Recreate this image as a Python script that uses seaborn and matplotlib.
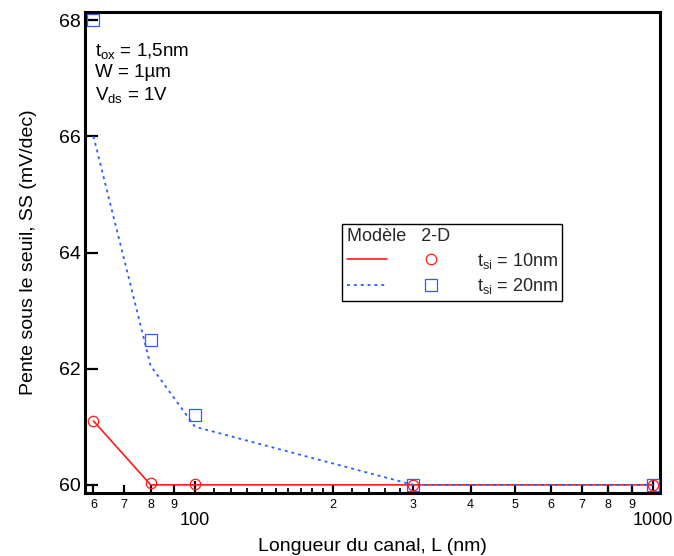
import matplotlib
matplotlib.use('Agg')
import matplotlib.pyplot as plt
import seaborn as sns
import pandas as pd
from matplotlib.lines import Line2D
from matplotlib.legend_handler import HandlerTuple
from matplotlib.ticker import FixedLocator, FixedFormatter, NullLocator, NullFormatter

# ---------------- data ----------------
L_nm = [60, 80, 100, 300, 1000]
model_tsi10 = [61.1, 60.0, 60.0, 60.0, 60.0]
model_tsi20 = [66.0, 62.05, 61.0, 60.0, 60.0]
sim_tsi10 = [61.1, 60.04, 60.01, 60.0, 60.0]
sim_tsi20 = [68.0, 62.5, 61.2, 60.0, 60.0]

x_major_ticks = [100, 1000]
x_major_labels = ['100', '1000']
x_minor_ticks = [60, 70, 80, 90, 200, 300, 400, 500, 600, 700, 800, 900]
x_minor_labels = ['6', '7', '8', '9', '2', '3', '4', '5', '6', '7', '8', '9']
x_small_ticks = [110, 120, 130, 140, 150, 160, 170, 180, 190, 220, 240, 260, 280]
y_ticks = [60, 62, 64, 66, 68]

legend_title = 'Modèle   2-D'
legend_labels = [r'$t_{si}$ = 10nm', r'$t_{si}$ = 20nm']
annotation = '$t_{ox}$ = 1,5nm\nW = 1µm\n$V_{ds}$ = 1V'
xlabel = 'Longueur du canal, L (nm)'
ylabel = 'Pente sous le seuil, SS (mV/dec)'

RED = '#ff1a1a'
BLUE = '#2a5cff'
DOTTED = (0, (1.6, 2.2))

# ---------------- style ----------------
sns.set_theme(style='white')
plt.rcParams['font.family'] = ['Liberation Sans', 'DejaVu Sans']
plt.rcParams['mathtext.default'] = 'regular'

fig = plt.figure(figsize=(6.74, 5.56), dpi=100)
ax = fig.add_axes([85 / 674, 1 - 493 / 556, 575 / 674, 481 / 556])

df10 = pd.DataFrame({'L': L_nm, 'model': model_tsi10, 'sim': sim_tsi10})
df20 = pd.DataFrame({'L': L_nm, 'model': model_tsi20, 'sim': sim_tsi20})

sns.lineplot(data=df10, x='L', y='model', ax=ax, color=RED, lw=1.2,
             estimator=None, sort=False, zorder=2)
sns.lineplot(data=df20, x='L', y='model', ax=ax, color=BLUE, lw=1.3,
             linestyle=DOTTED, estimator=None, sort=False, zorder=3)
sns.lineplot(data=df10, x='L', y='sim', ax=ax, color=RED, linestyle='',
             marker='o', markersize=7.5, markerfacecolor='none',
             markeredgecolor=RED, markeredgewidth=0.9,
             estimator=None, sort=False, zorder=4, clip_on=False)
sns.lineplot(data=df20, x='L', y='sim', ax=ax, color=BLUE, linestyle='',
             marker='s', markersize=8, markerfacecolor='none',
             markeredgecolor=BLUE, markeredgewidth=0.9,
             estimator=None, sort=False, zorder=5, clip_on=False)

ax.set_xscale('log')
ax.set_xlim(57.5, 1037)
ax.set_ylim(59.86, 68.14)

# x ticks
ax.xaxis.set_major_locator(FixedLocator(x_major_ticks))
ax.xaxis.set_major_formatter(FixedFormatter(x_major_labels))
ax.xaxis.set_minor_locator(FixedLocator(x_minor_ticks))
ax.xaxis.set_minor_formatter(FixedFormatter(x_minor_labels))
ax.tick_params(axis='x', which='major', direction='in', length=9, width=1.6,
               labelsize=13, pad=14, colors='black', bottom=True, top=False)
ax.tick_params(axis='x', which='minor', direction='in', length=6, width=1.6,
               labelsize=9, pad=4.5, colors='black', bottom=True, top=False)

sec = ax.secondary_xaxis('bottom')
sec.xaxis.set_major_locator(FixedLocator(x_small_ticks))
sec.xaxis.set_major_formatter(NullFormatter())
sec.xaxis.set_minor_locator(NullLocator())
sec.tick_params(axis='x', which='major', direction='in', length=3.5, width=1.3,
                labelbottom=False, colors='black')
sec.spines['bottom'].set_visible(False)

# y ticks
ax.set_yticks(y_ticks)
ax.set_yticklabels([str(v) for v in y_ticks])
ax.tick_params(axis='y', which='major', direction='in', length=9, width=1.6,
               labelsize=14, pad=3, colors='black', left=True, right=False)

for s in ax.spines.values():
    s.set_color('black')
    s.set_linewidth(2.2)

ax.set_xlabel(xlabel, fontsize=14, labelpad=6, color='black')
ax.set_ylabel(ylabel, fontsize=14, labelpad=16, color='black')

ax.text(0.018, 0.94, annotation, transform=ax.transAxes, fontsize=13.5,
        va='top', ha='left', linespacing=1.25, color='black')

h10 = (Line2D([], [], color=RED, lw=1.2),
       Line2D([], [], color=RED, marker='o', ls='none', mfc='none', mec=RED,
              ms=7.5, mew=0.9))
h20 = (Line2D([], [], color=BLUE, lw=1.3, ls=DOTTED),
       Line2D([], [], color=BLUE, marker='s', ls='none', mfc='none', mec=BLUE,
              ms=8, mew=0.9))
leg = ax.legend([h10, h20], legend_labels,
                handler_map={tuple: HandlerTuple(ndivide=None, pad=1.33)},
                title=legend_title, alignment='left',
                loc='upper left', bbox_to_anchor=(0.447, 0.560),
                borderaxespad=0, frameon=True, fancybox=False,
                edgecolor='black', framealpha=1, fontsize=13,
                title_fontsize=13, handlelength=5.76, handletextpad=1.44,
                borderpad=0.25, labelspacing=0.3)
leg.get_frame().set_linewidth(1.0)

fig.savefig('out.png', dpi=100)
